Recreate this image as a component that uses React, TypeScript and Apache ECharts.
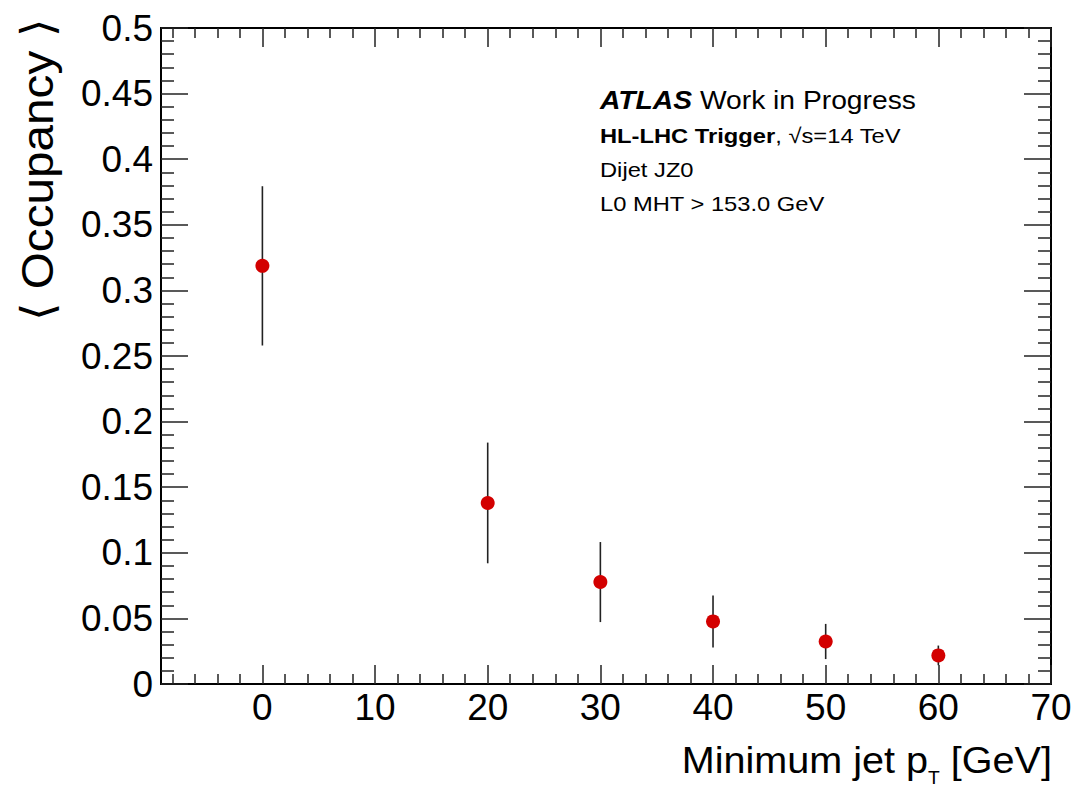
import React, { useEffect, useRef } from "react";
import * as echarts from "echarts";

// Mean occupancy versus minimum jet pT threshold
const ptThresholds = [0, 20, 30, 40, 50, 60];
const occupancy = [0.3187, 0.138, 0.0777, 0.0477, 0.0324, 0.0218];
const occupancyErr = [0.0607, 0.046, 0.0305, 0.0198, 0.0134, 0.0075];

// Axis ticks
const xMajorTicks = [0, 10, 20, 30, 40, 50, 60, 70];
const xMinorTicks = [
  -8, -6, -4, -2, 2, 4, 6, 8, 12, 14, 16, 18, 22, 24, 26, 28, 32, 34, 36, 38,
  42, 44, 46, 48, 52, 54, 56, 58, 62, 64, 66, 68,
];

const annotationLines = [
  "Dijet JZ0",
  "L0 MHT > 153.0 GeV",
];

const FONT = "'Liberation Sans', Arial, Helvetica, sans-serif";
const AXIS_COLOR = "#000";
const TEXT_STRETCH = 1.13;

export default function App() {
  const ref = useRef<HTMLDivElement>(null);

  useEffect(() => {
    if (!ref.current) return;
    const chart = echarts.init(ref.current, null, { renderer: "svg" });

    const xBase = {
      type: "value" as const,
      min: -9,
      max: 70,
      gridIndex: 0,
      splitLine: { show: false },
      axisLine: { show: true, onZero: false, lineStyle: { color: AXIS_COLOR, width: 2 } },
    };

    const xAxes = [
      {
        ...xBase,
        position: "bottom",
        axisTick: {
          show: true,
          inside: true,
          length: 19,
          customValues: xMajorTicks,
          lineStyle: { color: "#222", width: 1.5 },
        },
        axisLabel: {
          show: true,
          customValues: xMajorTicks,
          margin: 5,
          fontSize: 37,
          fontFamily: FONT,
          color: "#000",
        },
      },
      {
        ...xBase,
        position: "bottom",
        axisTick: {
          show: true,
          inside: true,
          length: 10,
          customValues: xMinorTicks,
          lineStyle: { color: "#222", width: 1.5 },
        },
        axisLabel: { show: false },
      },
      {
        ...xBase,
        position: "top",
        axisTick: {
          show: true,
          inside: true,
          length: 19,
          customValues: xMajorTicks,
          lineStyle: { color: "#222", width: 1.5 },
        },
        axisLabel: { show: false },
      },
      {
        ...xBase,
        position: "top",
        axisTick: {
          show: true,
          inside: true,
          length: 10,
          customValues: xMinorTicks,
          lineStyle: { color: "#222", width: 1.5 },
        },
        axisLabel: { show: false },
      },
    ];

    const yBase = {
      type: "value" as const,
      min: 0,
      max: 0.5,
      interval: 0.05,
      splitLine: { show: false },
      axisLine: { show: true, onZero: false, lineStyle: { color: AXIS_COLOR, width: 2 } },
      axisTick: { show: true, inside: true, length: 27, lineStyle: { color: "#222", width: 1.5 } },
      minorTick: { show: true, splitNumber: 5, length: 13, lineStyle: { color: "#222", width: 1.5 } },
      minorSplitLine: { show: false },
    };

    const yAxes = [
      {
        ...yBase,
        position: "left",
        axisLabel: {
          show: true,
          margin: 8,
          fontSize: 37,
          fontFamily: FONT,
          color: "#000",
          formatter: (v: number) => (v === 0 ? "0" : String(+v.toFixed(2))),
        },
      },
      {
        ...yBase,
        position: "right",
        axisLabel: { show: false },
      },
    ];

    const errorData = ptThresholds.map((x, i) => [
      x,
      occupancy[i] - occupancyErr[i],
      occupancy[i] + occupancyErr[i],
    ]);
    const pointData = ptThresholds.map((x, i) => [x, occupancy[i]]);

    chart.setOption({
      animation: false,
      backgroundColor: "#fff",
      grid: {
        left: 161,
        right: 26,
        top: 28,
        bottom: 105,
        containLabel: false,
        outerBoundsMode: "none",
      },
      xAxis: xAxes,
      yAxis: yAxes,
      series: [
        {
          type: "custom",
          xAxisIndex: 0,
          yAxisIndex: 0,
          z: 2,
          data: errorData,
          renderItem: (_params: any, api: any) => {
            const x = api.value(0);
            const top = api.coord([x, api.value(2)]);
            const bottom = api.coord([x, api.value(1)]);
            return {
              type: "line",
              shape: { x1: top[0], y1: top[1], x2: bottom[0], y2: bottom[1] },
              style: { stroke: "#222", lineWidth: 1.6 },
            };
          },
        },
        {
          type: "scatter",
          xAxisIndex: 0,
          yAxisIndex: 0,
          z: 3,
          symbol: "circle",
          symbolSize: 14,
          itemStyle: { color: "#d30000", opacity: 1 },
          data: pointData,
        },
      ],
      graphic: [
        {
          type: "text",
          x: 600,
          y: 101,
          scaleX: TEXT_STRETCH,
          style: {
            text: "{b|ATLAS}{r| Work in Progress}",
            verticalAlign: "middle",
            rich: {
              b: { fontSize: 25, fontWeight: "bold", fontStyle: "italic", fontFamily: FONT, fill: "#000" },
              r: { fontSize: 25, fontFamily: FONT, fill: "#000" },
            },
          },
        },
        {
          type: "text",
          x: 600,
          y: 136,
          scaleX: TEXT_STRETCH,
          style: {
            text: "{b|HL-LHC Trigger}{r|, √s=14 TeV}",
            verticalAlign: "middle",
            rich: {
              b: { fontSize: 21, fontWeight: "bold", fontFamily: FONT, fill: "#000" },
              r: { fontSize: 21, fontFamily: FONT, fill: "#000" },
            },
          },
        },
        ...annotationLines.map((t, i) => ({
          type: "text",
          x: 600,
          y: 170 + i * 34,
          scaleX: TEXT_STRETCH,
          style: {
            text: t,
            fontSize: 21,
            fontFamily: FONT,
            fill: "#000",
            verticalAlign: "middle",
          },
        })),
        {
          type: "text",
          x: 37,
          y: 170,
          rotation: Math.PI / 2,
          scaleX: 1.06,
          style: {
            text: "⟨ Occupancy ⟩",
            fontSize: 45,
            fontFamily: FONT,
            fill: "#000",
            align: "center",
            verticalAlign: "middle",
          },
        },
        {
          type: "text",
          x: 1052,
          y: 760,
          scaleX: 1.07,
          style: {
            text: "{m|Minimum jet p}{s|T}{m| [GeV]}",
            align: "right",
            verticalAlign: "middle",
            rich: {
              m: { fontSize: 37, lineHeight: 40, fontFamily: FONT, fill: "#000" },
              s: { fontSize: 18, lineHeight: 16, padding: [36, 0, 0, 0], fontFamily: FONT, fill: "#000" },
            },
          },
        },
      ],
    });

    return () => chart.dispose();
  }, []);

  return (
    <div
      ref={ref}
      style={{ position: "fixed", left: 0, top: 0, width: 1077, height: 789 }}
    />
  );
}
